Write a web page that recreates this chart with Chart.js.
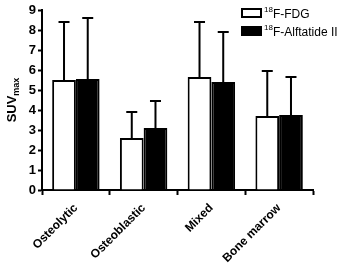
<!DOCTYPE html>
<html>
<head>
<meta charset="utf-8">
<script src="https://cdn.jsdelivr.net/npm/chart.js@4"></script>
<style>
  html, body { margin: 0; padding: 0; background: #fff; }
  #wrap { width: 345px; height: 266px; position: relative; }
</style>
</head>
<body>
<div id="wrap"><canvas id="suvChart" width="345" height="266"></canvas></div>
<script>
const categories = ['Osteolytic', 'Osteoblastic', 'Mixed', 'Bone marrow'];
const fdgMean = [5.5, 2.6, 5.65, 3.7];
const fdgSd = [2.9, 1.3, 2.75, 2.25];
const alfMean = [5.55, 3.1, 5.4, 3.75];
const alfSd = [3.05, 1.35, 2.5, 1.9];
const yTicks = [0, 1, 2, 3, 4, 5, 6, 7, 8, 9];
const legendItems = [
  { sup: '18', text: 'F-FDG', fill: '#fff' },
  { sup: '18', text: 'F-Alftatide II', fill: '#000' }
];

const FONT = 'Arial, "Liberation Sans", sans-serif';

// upper error whiskers with caps
const errorBars = {
  id: 'errorBars',
  afterDatasetsDraw(chart) {
    const c = chart.ctx;
    const ys = chart.scales.y;
    const sds = [fdgSd, alfSd];
    c.save();
    c.strokeStyle = '#000';
    c.lineWidth = 2;
    chart.data.datasets.forEach((ds, i) => {
      chart.getDatasetMeta(i).data.forEach((bar, j) => {
        const top = ys.getPixelForValue(ds.data[j] + sds[i][j]);
        c.beginPath();
        c.moveTo(bar.x, bar.y);
        c.lineTo(bar.x, top);
        c.moveTo(bar.x - 5.5, top);
        c.lineTo(bar.x + 5.5, top);
        c.stroke();
      });
    });
    c.restore();
  }
};

// y title with subscript and legend with superscripts
const extras = {
  id: 'extras',
  afterDraw(chart) {
    const c = chart.ctx;
    c.save();
    c.fillStyle = '#000';
    c.translate(16, 100);
    c.rotate(-Math.PI / 2);
    c.textBaseline = 'alphabetic';
    c.font = 'bold 13px ' + FONT;
    const w1 = c.measureText('SUV').width;
    c.font = 'bold 9px ' + FONT;
    const w2 = c.measureText('max').width;
    const x0 = -(w1 + w2) / 2;
    c.font = 'bold 13px ' + FONT;
    c.fillText('SUV', x0, 0);
    c.font = 'bold 9px ' + FONT;
    c.fillText('max', x0 + w1, 3);
    c.restore();

    c.save();
    legendItems.forEach((it, i) => {
      const y = 13 + i * 18;
      c.fillStyle = it.fill;
      c.fillRect(241, y - 5, 21, 10);
      c.strokeStyle = '#000';
      c.lineWidth = 2;
      c.strokeRect(242, y - 4, 19, 8);
      c.fillStyle = '#000';
      c.textBaseline = 'alphabetic';
      c.font = '8px ' + FONT;
      c.fillText(it.sup, 264, y - 1);
      const sw = c.measureText(it.sup).width;
      c.font = '12px ' + FONT;
      c.fillText(it.text, 264 + sw, y + 5);
    });
    c.restore();
  }
};

new Chart(document.getElementById('suvChart'), {
  type: 'bar',
  data: {
    labels: categories,
    datasets: [
      {
        label: '18F-FDG',
        data: fdgMean,
        backgroundColor: '#fff',
        borderColor: '#000',
        borderWidth: 2
      },
      {
        label: '18F-Alftatide II',
        data: alfMean,
        backgroundColor: '#000',
        borderColor: '#000',
        borderWidth: 2
      }
    ]
  },
  options: {
    responsive: false,
    animation: false,
    layout: { padding: { top: 10, right: 32, left: 0, bottom: 0 } },
    plugins: {
      legend: { display: false },
      tooltip: { enabled: false }
    },
    datasets: {
      bar: { categoryPercentage: 0.7, barPercentage: 1 }
    },
    scales: {
      x: {
        grid: { drawOnChartArea: false, tickLength: 5, tickColor: '#000', tickWidth: 2, offset: true },
        border: { color: '#000', width: 2 },
        ticks: {
          color: '#000',
          font: { family: FONT, size: 12, weight: 'bold' },
          maxRotation: 45,
          minRotation: 45,
          padding: 6
        },
        afterFit(scale) { scale.height = 76; }
      },
      y: {
        min: 0,
        max: 9,
        afterBuildTicks(scale) { scale.ticks = yTicks.map(v => ({ value: v })); },
        grid: { drawOnChartArea: false, tickLength: 4, tickColor: '#000', tickWidth: 2 },
        border: { color: '#000', width: 2 },
        ticks: {
          color: '#000',
          font: { family: FONT, size: 13, weight: 'bold' },
          padding: 2
        },
        afterFit(scale) { scale.width = 42; }
      }
    }
  },
  plugins: [errorBars, extras]
});
</script>
</body>
</html>
